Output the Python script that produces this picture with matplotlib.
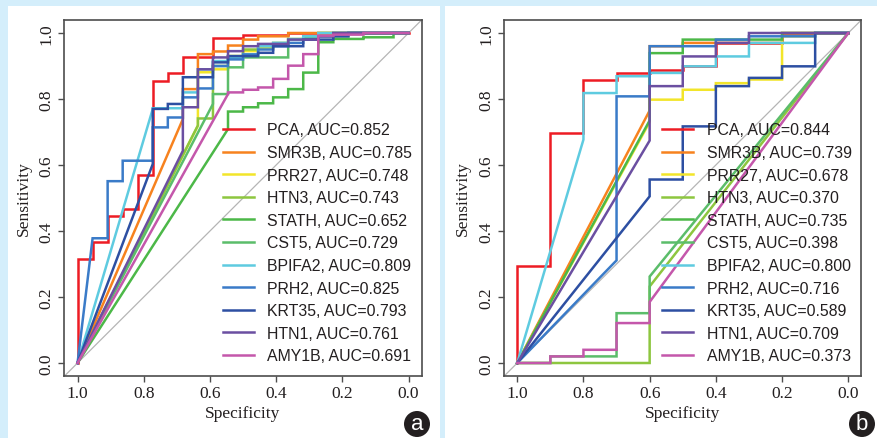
import matplotlib
matplotlib.use("Agg")
import matplotlib.pyplot as plt
from matplotlib.patches import Rectangle, Circle

markers = ["PCA", "SMR3B", "PRR27", "HTN3", "STATH", "CST5",
           "BPIFA2", "PRH2", "KRT35", "HTN1", "AMY1B"]
colors = ["#ed1c24", "#f7821e", "#f2e52a", "#8dc63f", "#4cb848", "#5bbd6a",
          "#5ecbe0", "#3a7bc8", "#2d4fa2", "#6b4fa1", "#c457ab"]

auc_a = [0.852, 0.785, 0.748, 0.743, 0.652, 0.729, 0.809, 0.825, 0.793, 0.761, 0.691]
auc_b = [0.844, 0.739, 0.678, 0.370, 0.735, 0.398, 0.800, 0.716, 0.589, 0.709, 0.373]

# number of controls -> specificity steps of 1/n
n_ctrl_a = 22
n_ctrl_b = 10

# step index where the tied (diagonal) part ends, and the sensitivity there
start_a = [0, 7, 8, 8, 10, 9, 5, 1, 5, 7, 10]
diag_a = [0.0, 0.739, 0.719, 0.720, 0.709, 0.785, 0.770, 0.378, 0.603, 0.643, 0.815]
# sensitivity after each specificity step, starting at start_a
levels_a = [
    [0.315, 0.366, 0.444, 0.467, 0.570, 0.856, 0.878, 0.928, 0.928, 0.985, 0.985, 0.995, 0.995, 0.995, 1.0],
    [0.830, 0.936, 0.944, 0.962, 0.980, 0.990, 0.990, 1.0],
    [0.881, 0.890, 0.930, 0.945, 0.955, 0.965, 0.980, 0.980, 1.0],
    [0.741, 0.900, 0.930, 0.950, 0.960, 0.970, 0.980, 0.990, 1.0],
    [0.762, 0.775, 0.787, 0.805, 0.830, 0.880, 0.972, 0.982, 0.982, 0.987, 0.987, 1.0],
    [0.815, 0.896, 0.926, 0.926, 0.926, 0.982, 0.985, 0.990, 0.990, 1.0],
    [0.772, 0.772, 0.820, 0.890, 0.915, 0.925, 0.935, 0.960, 0.970, 0.980, 0.990, 1.0],
    [0.378, 0.551, 0.613, 0.613, 0.714, 0.744, 0.805, 0.832, 0.900, 0.920, 0.935, 0.950, 0.960, 0.970, 0.980, 0.990, 1.0],
    [0.770, 0.785, 0.866, 0.866, 0.911, 0.930, 0.930, 0.940, 0.960, 0.960, 0.980, 0.980, 0.990, 1.0],
    [0.775, 0.890, 0.926, 0.945, 0.960, 0.967, 0.967, 0.980, 0.980, 0.990, 1.0],
    [0.820, 0.828, 0.835, 0.861, 0.901, 0.936, 0.992, 0.995, 0.995, 1.0],
]

start_b = [0, 4, 4, 0, 4, 0, 2, 3, 4, 4, 0]
diag_b = [0.0, 0.765, 0.730, 0.0, 0.735, 0.0, 0.677, 0.311, 0.505, 0.674, 0.0]
levels_b = [
    [0.293, 0.697, 0.859, 0.879, 0.889, 0.899, 0.970, 0.970, 1.0],
    [0.960, 0.970, 0.970, 0.970, 1.0],
    [0.798, 0.828, 0.848, 0.859, 0.990, 1.0],
    [0.0, 0.0, 0.0, 0.0, 0.232],
    [0.939, 0.980, 0.980, 0.980, 1.0],
    [0.0, 0.020, 0.020, 0.151, 0.262],
    [0.818, 0.869, 0.879, 0.899, 0.929, 0.970, 0.970, 1.0],
    [0.808, 0.960, 0.960, 0.980, 0.990, 0.990, 1.0],
    [0.556, 0.717, 0.839, 0.864, 0.899, 1.0],
    [0.839, 0.929, 0.970, 1.0],
    [0.0, 0.020, 0.040, 0.121, 0.185],
]

ticks = [0.0, 0.2, 0.4, 0.6, 0.8, 1.0]
tick_labels = ["0.0", "0.2", "0.4", "0.6", "0.8", "1.0"]

SERIF = "Liberation Serif"
SANS = "Liberation Sans"
FRAME = "#4d4d4d"
TEXT = "#231f20"


def roc_path(n_ctrl, k0, d, levels):
    spec = [1.0, 1 - k0 / n_ctrl]
    sens = [0.0, d]
    for i, lv in enumerate(levels):
        s = 1 - (k0 + i) / n_ctrl
        spec.append(s)
        sens.append(lv)
        if i < len(levels) - 1:
            spec.append(1 - (k0 + i + 1) / n_ctrl)
            sens.append(lv)
    spec.append(0.0)
    sens.append(1.0)
    return spec, sens


def draw_panel(ax, n_ctrl, starts, diags, levels, aucs):
    ax.axline((1, 0), (0, 1), color="#b5b5b5", lw=0.9, zorder=1)
    for m, c, k0, d, lv, auc in zip(markers, colors, starts, diags, levels, aucs):
        x, y = roc_path(n_ctrl, k0, d, lv)
        ax.plot(x, y, color=c, lw=1.8, label=f"{m}, AUC={auc:.3f}",
                solid_joinstyle="miter", zorder=2)
    ax.set_xlim(1.04, -0.04)
    ax.set_ylim(-0.04, 1.04)
    ax.set_xticks(ticks)
    ax.set_xticklabels(tick_labels, fontfamily=SERIF, fontsize=12.5, color=TEXT)
    ax.set_yticks(ticks)
    ax.set_yticklabels(tick_labels, fontfamily=SERIF, fontsize=12.5, color=TEXT,
                       rotation=90, va="center")
    ax.tick_params(direction="out", length=4, width=1, color=FRAME)
    ax.tick_params(axis="x", pad=2)
    ax.tick_params(axis="y", pad=3)
    for sp in ax.spines.values():
        sp.set_color(FRAME)
        sp.set_linewidth(1.2)
    ax.set_xlabel("Specificity", fontfamily=SERIF, fontsize=12.5, color=TEXT, labelpad=3)
    ax.set_ylabel("Sensitivity", fontfamily=SERIF, fontsize=12.5, color=TEXT, labelpad=5)
    leg = ax.legend(loc="upper left", bbox_to_anchor=(0.443, 0.712), frameon=False,
                    prop={"family": SANS, "size": 11.4}, handlelength=1.95,
                    handletextpad=0.85, labelspacing=0.48, borderpad=0,
                    borderaxespad=0)
    for t in leg.get_texts():
        t.set_color(TEXT)


fig = plt.figure(figsize=(8.78, 4.39), dpi=100)
fig.patch.set_facecolor("#d4eefb")
W, H = 878, 439
fig.patches.append(Rectangle((8 / W, 0), 432 / W, 432 / H, transform=fig.transFigure,
                             facecolor="white", edgecolor="none", zorder=-5))
fig.patches.append(Rectangle((445 / W, 0), 433 / W, 432 / H, transform=fig.transFigure,
                             facecolor="white", edgecolor="none", zorder=-5))

ax_a = fig.add_axes([64.3 / W, 61.8 / H, 357.5 / W, 356.4 / H])
ax_b = fig.add_axes([504 / W, 61.8 / H, 357.5 / W, 356.4 / H])
draw_panel(ax_a, n_ctrl_a, start_a, diag_a, levels_a, auc_a)
draw_panel(ax_b, n_ctrl_b, start_b, diag_b, levels_b, auc_b)

for cx, letter in [(417, "a"), (862, "b")]:
    fig.patches.append(Circle((cx / 100, 14 / 100), 0.13, transform=fig.dpi_scale_trans,
                              facecolor="#231f20", edgecolor="none", zorder=5))
    fig.text(cx / W, 14.5 / H, letter, color="white", fontsize=16, family=SANS,
             ha="center", va="center", zorder=6)

fig.savefig("out.png", dpi=100, facecolor=fig.get_facecolor())
